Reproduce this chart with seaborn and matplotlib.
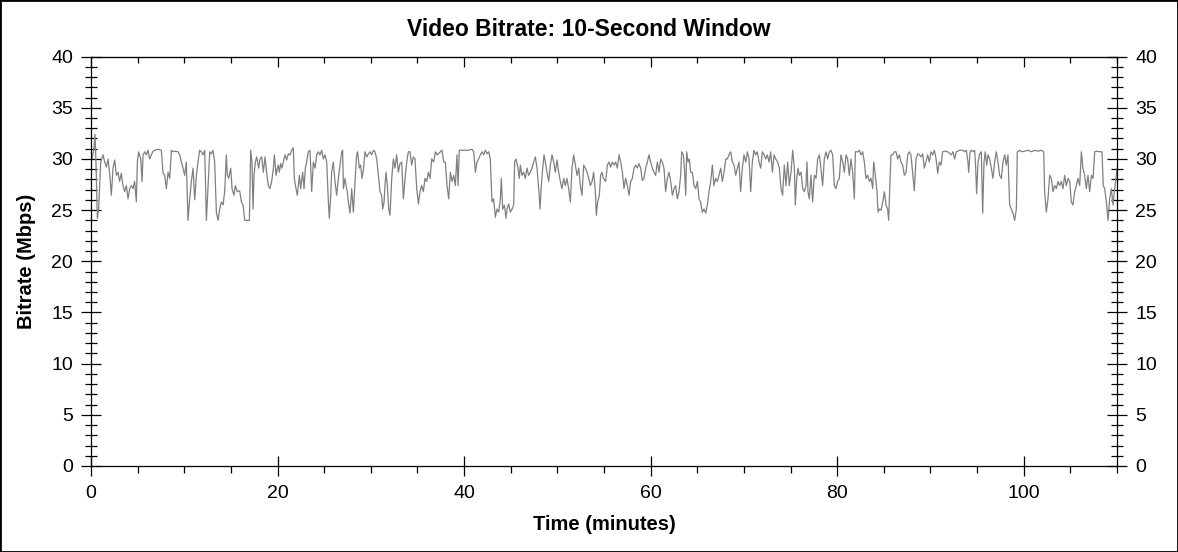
import matplotlib
matplotlib.use("Agg")
import matplotlib.pyplot as plt
import seaborn as sns
from matplotlib.ticker import MultipleLocator
from matplotlib.patches import Rectangle

# time (minutes) and bitrate (Mbps)
minutes = [
    0.11, 0.32, 0.43, 0.54, 0.68, 0.82, 1.04, 1.29, 1.47, 1.65, 1.82, 2.0, 2.18, 2.36, 2.54, 2.72, 2.9, 3.07,
    3.25, 3.43, 3.61, 3.79, 3.97, 4.15, 4.33, 4.51, 4.68, 4.86, 4.97, 5.11, 5.33, 5.47, 5.58, 5.76, 5.93, 6.11,
    6.29, 6.47, 6.65, 6.83, 7.19, 7.54, 7.72, 7.9, 8.08, 8.26, 8.44, 8.62, 8.79, 8.97, 9.33, 9.51, 9.69, 9.87,
    10.04, 10.22, 10.4, 10.58, 10.76, 10.94, 11.12, 11.3, 11.47, 11.65, 11.83, 12.01, 12.19, 12.37, 12.55,
    12.73, 12.9, 13.08, 13.26, 13.44, 13.62, 13.8, 13.98, 14.16, 14.33, 14.51, 14.62, 14.76, 14.98, 15.12,
    15.33, 15.48, 15.69, 15.94, 16.12, 16.3, 16.48, 16.76, 16.98, 17.12, 17.26, 17.37, 17.48, 17.62, 17.76, 17.98,
    18.12, 18.3, 18.48, 18.66, 18.83, 19.01, 19.19, 19.37, 19.55, 19.66, 19.84, 19.98, 20.09, 20.19, 20.34,
    20.48, 20.62, 20.8, 20.98, 21.16, 21.34, 21.52, 21.69, 21.8, 21.98, 22.12, 22.34, 22.48, 22.69, 22.84,
    22.98, 23.12, 23.3, 23.48, 23.66, 23.84, 24.02, 24.2, 24.37, 24.55, 24.73, 24.91, 25.09, 25.27, 25.45,
    25.55, 25.7, 25.8, 25.98, 26.16, 26.34, 26.52, 26.7, 26.88, 26.98, 27.06, 27.23, 27.34, 27.48, 27.59,
    27.77, 27.95, 28.13, 28.31, 28.48, 28.59, 28.77, 28.91, 29.06, 29.2, 29.38, 29.56, 29.74, 29.91, 30.09,
    30.27, 30.45, 30.63, 30.81, 30.99, 31.17, 31.27, 31.42, 31.52, 31.63, 31.77, 31.92, 32.06, 32.24, 32.42,
    32.59, 32.77, 32.95, 33.13, 33.31, 33.49, 33.67, 33.85, 34.02, 34.2, 34.38, 34.56, 34.74, 34.92, 35.1,
    35.27, 35.45, 35.63, 35.81, 35.99, 36.17, 36.35, 36.53,
    36.74, 36.92, 37.1, 37.27, 37.45, 37.63, 37.81, 37.99, 38.17, 38.35, 38.53, 38.7, 38.88, 39.06, 39.24,
    39.35, 39.49, 39.78, 40.13, 40.49, 40.85, 41.03, 41.21, 41.38, 41.56, 41.74, 41.92, 42.1, 42.28, 42.46,
    42.64, 42.81, 42.99, 43.17, 43.35, 43.53, 43.71, 43.89, 43.99, 44.14, 44.32, 44.5, 44.6, 44.78, 44.96,
    45.14, 45.32, 45.42, 45.57, 45.78, 45.92, 46.03, 46.21, 46.39, 46.57, 46.75, 46.92, 47.1, 47.28, 47.46,
    47.64, 47.82, 48.0, 48.14, 48.28, 48.43, 48.57, 48.71, 48.89, 49.07, 49.25, 49.43, 49.61, 49.78, 49.96,
    50.14, 50.32, 50.5, 50.68, 50.86, 51.03, 51.21, 51.39, 51.57, 51.75, 51.93, 52.11, 52.29, 52.46, 52.64,
    52.82, 53.0, 53.18, 53.36, 53.54, 53.72, 53.89, 54.07, 54.18, 54.32, 54.5, 54.64, 54.79, 54.93,
    55.18, 55.36, 55.54, 55.71, 55.89, 56.07, 56.25, 56.43, 56.61, 56.79, 56.97, 57.14, 57.32, 57.5, 57.68,
    57.86, 58.04, 58.22, 58.4, 58.57, 58.75, 58.93, 59.11, 59.29, 59.47, 59.65, 59.82, 60.0, 60.18, 60.36,
    60.54, 60.72, 60.9, 61.08, 61.25, 61.43, 61.61, 61.79, 61.97, 62.15, 62.33, 62.51, 62.68, 62.86, 63.04,
    63.22, 63.33, 63.51, 63.65, 63.76, 63.86, 64.01, 64.15, 64.29, 64.47, 64.65, 64.83, 65.01, 65.19, 65.36,
    65.54, 65.72, 65.9, 66.08, 66.26, 66.44, 66.62, 66.79, 66.97, 67.15, 67.33, 67.51, 67.69, 67.87, 68.05,
    68.22, 68.4, 68.58, 68.76, 68.94, 69.12, 69.3, 69.47, 69.65, 69.83, 70.01, 70.19, 70.37, 70.55, 70.73,
    70.9, 71.08, 71.26, 71.44, 71.62, 71.8, 71.98, 72.16, 72.33, 72.51, 72.69, 72.87, 73.05, 73.23, 73.41,
    73.62, 73.8, 73.98, 74.15, 74.33, 74.51, 74.69, 74.87, 75.05, 75.23, 75.41, 75.51, 75.66, 75.8, 75.94,
    76.12, 76.3, 76.48, 76.66, 76.76, 76.87, 77.01, 77.19, 77.37, 77.55, 77.73, 77.91, 78.09, 78.26, 78.44,
    78.62, 78.8, 78.98, 79.16, 79.34, 79.52, 79.69, 79.87, 80.05, 80.23, 80.41, 80.59, 80.77, 80.95, 81.12,
    81.3, 81.48, 81.66, 81.84, 81.95, 82.2, 82.38, 82.55, 82.73, 82.91, 83.09, 83.27, 83.45, 83.63, 83.81,
    83.91, 84.09, 84.27, 84.38, 84.52, 84.7, 84.88, 85.06, 85.23, 85.41, 85.52, 85.66, 85.77, 85.95, 86.13,
    86.31, 86.49, 86.66, 86.84, 87.02, 87.2, 87.38, 87.56, 87.74, 87.91, 88.09, 88.27, 88.45, 88.63, 88.81,
    88.99, 89.17, 89.34, 89.52, 89.7, 89.88, 90.06, 90.24, 90.42, 90.6, 90.78, 90.95, 91.13, 91.31, 91.49, 91.85,
    92.24, 92.42, 92.59, 92.77, 93.13, 93.49, 93.67, 93.85, 94.02, 94.1, 94.24, 94.38, 94.56, 94.74, 94.85,
    94.95, 95.1, 95.28, 95.45, 95.6, 95.74, 95.88, 96.03, 96.17, 96.35, 96.53, 96.7, 96.88, 97.06, 97.24,
    97.42, 97.6, 97.78, 97.96, 98.13, 98.31, 98.49, 98.67, 98.85, 99.03, 99.21, 99.31, 99.56, 99.74, 100.1,
    100.46, 100.81, 101.17, 101.53, 101.89, 102.14, 102.24, 102.42, 102.6, 102.78, 102.96, 103.14, 103.32,
    103.5, 103.67, 103.85, 104.03, 104.21, 104.39, 104.57, 104.75, 104.93, 105.1, 105.28, 105.46, 105.64,
    105.82, 106.0, 106.18, 106.35, 106.53, 106.71, 106.89, 107.07, 107.25, 107.43, 107.61, 107.78, 108.14,
    108.39, 108.53, 108.68, 108.86, 109.04, 109.21, 109.39, 109.57, 109.75, 109.93, 110.0,
]
mbps = [
    30.0, 31.0, 32.4, 29.5, 24.2, 25.1, 29.7, 30.4, 29.7, 29.2, 30.0, 28.6, 26.45, 29.1, 29.9, 28.4, 28.7, 27.8,
    28.6, 27.4, 26.8, 27.4, 26.1, 27.1, 27.4, 27.1, 27.8, 25.8, 29.7, 30.7, 30.0, 27.8, 30.4, 30.7, 30.4, 30.85,
    30.0, 30.4, 30.76, 30.85, 30.95, 30.85, 28.6, 28.4, 27.1, 28.7, 28.1, 30.85, 30.7, 30.76, 30.7, 30.4, 29.7, 29.1,
    28.4, 29.7, 24.0, 26.1, 27.8, 29.1, 26.0, 28.4, 29.7, 30.85, 30.7, 30.4, 30.85, 24.0, 27.4,
    30.7, 30.5, 30.85, 29.7, 24.8, 24.0, 25.1, 25.8, 25.5, 26.8, 30.4, 28.4, 28.1, 29.1, 27.1,
    26.45, 27.4, 26.8, 26.9, 25.8, 25.5, 24.0, 24.0, 24.0, 30.85, 29.7, 25.1, 28.4, 29.7, 30.2, 29.1,
    30.0, 30.2, 28.7, 30.2, 28.7, 27.4, 27.1, 27.8, 29.1, 30.4, 28.4, 29.1, 29.4, 28.7, 29.55,
    29.1, 29.7, 30.4, 29.9, 30.5, 30.4, 30.85, 31.1, 28.1, 27.1, 26.45, 28.4, 27.1, 28.7, 27.1,
    29.1, 29.7, 30.7, 30.85, 26.8, 29.7, 29.1, 30.4, 30.7, 30.4, 30.85, 30.0, 30.4, 29.7, 25.8,
    24.2, 26.45, 28.7, 29.7, 27.8, 26.45, 28.1, 29.4, 30.7, 30.85, 27.1, 28.1, 27.4, 26.8, 25.8,
    24.7, 27.1, 24.8, 27.8, 30.4, 30.7, 29.1, 29.4, 28.1, 28.9, 30.7, 30.2, 30.5, 30.7, 30.4,
    30.85, 30.7, 30.0, 28.4, 26.8, 26.45, 25.1, 25.8, 27.4, 28.7, 27.4, 25.1, 24.5, 28.1, 30.0,
    29.1, 30.4, 28.7, 29.55, 29.7, 26.1, 28.1, 29.7, 30.7, 30.7, 29.4, 30.2, 30.0, 27.1, 25.6,
    26.8, 27.4, 26.8, 28.1, 27.8, 28.7, 28.1, 30.0,
    29.7, 30.7, 30.4, 30.5, 30.7, 30.85, 29.7, 29.7, 27.4, 26.1, 28.7, 27.8, 28.4, 27.4, 30.4,
    27.4, 30.85, 30.85, 30.85, 30.85, 30.95, 30.7, 28.7, 29.7, 30.0, 30.4, 30.7, 30.4, 30.85, 30.5,
    30.7, 30.0, 25.8, 26.1, 24.3, 25.1, 24.8, 26.1, 28.1, 25.1, 25.5, 24.2, 25.1, 25.6, 24.8,
    25.1, 25.5, 29.7, 30.0, 29.1, 28.1, 29.4, 28.4, 28.7, 28.1, 29.1, 28.4, 28.7, 29.1, 29.7,
    30.2, 29.1, 27.1, 25.1, 27.4, 29.1, 30.4, 29.7, 28.7, 27.8, 29.4, 30.4, 29.7, 28.7, 29.9,
    28.7, 27.8, 27.1, 28.1, 27.4, 28.1, 27.1, 25.8, 29.1, 30.4, 29.4, 28.4, 29.1, 27.4, 26.45,
    29.4, 29.1, 28.7, 28.1, 27.4, 27.8, 28.7, 26.8, 24.5, 25.8, 26.45, 28.4, 28.7, 28.1,
    27.8, 29.4, 29.7, 29.2, 29.7, 29.4, 29.7, 29.1, 30.4, 29.7, 28.7, 27.1, 28.1, 27.4, 26.45,
    27.8, 28.1, 29.1, 29.4, 29.1, 29.55, 29.1, 27.9, 28.1, 29.1, 29.7, 30.4, 29.7, 29.1, 28.7,
    28.4, 29.7, 28.7, 30.0, 29.7, 29.1, 26.8, 28.1, 28.7, 27.8, 26.45, 27.1, 27.4, 26.1, 26.8,
    28.4, 30.7, 30.4, 28.7, 26.45, 30.7, 29.7, 30.0, 28.7, 28.7, 27.4, 27.1, 27.8, 26.1, 25.8,
    24.8, 25.1, 24.7, 25.5, 26.8, 27.8, 29.4, 27.4, 28.1, 27.8, 28.4, 29.1, 27.8, 28.7, 30.0,
    30.0, 30.4, 30.7, 29.7, 29.4, 28.4, 29.1, 29.7, 26.8, 29.1, 30.4, 29.7, 30.7, 30.0, 26.8,
    29.7, 30.85, 30.4, 30.7, 29.7, 29.1, 30.7, 30.4, 30.0, 30.4, 29.7, 30.7, 28.7, 30.4, 30.0,
    29.7, 29.1, 27.1, 26.45, 29.4, 27.4, 29.7, 27.4, 28.7, 30.85, 29.1, 25.5, 28.1, 29.1, 28.4,
    28.7, 27.1, 26.8, 27.4, 29.7, 26.8, 26.1, 28.4, 25.8, 28.4, 28.1, 30.0, 30.4, 29.1, 27.4,
    30.0, 30.7, 30.0, 30.7, 30.85, 30.4, 27.4, 27.1, 27.8, 28.1, 30.4, 29.7, 28.7, 30.4, 30.0,
    28.4, 30.0, 28.7, 26.1, 30.7, 30.7, 30.85, 30.4, 30.7, 29.7, 28.1, 28.4, 27.8, 28.1, 27.1,
    29.7, 28.4, 26.8, 24.8, 25.1, 25.0, 25.8, 26.8, 25.5, 25.1, 24.0, 27.8, 30.4, 30.4, 30.7,
    30.7, 30.0, 30.4, 29.7, 29.4, 28.4, 28.7, 30.4, 30.7, 30.4, 28.7, 26.9, 30.0, 30.5, 30.4,
    30.2, 30.5, 29.1, 29.7, 30.4, 29.7, 30.7, 30.4, 30.85, 30.0, 28.6, 29.7, 29.4, 30.7, 30.76, 30.7,
    30.4, 30.7, 30.0, 30.7, 30.85, 30.85, 30.7, 30.85, 29.7, 28.7, 30.7, 30.85, 30.7, 30.85, 29.1,
    26.6, 29.7, 30.5, 30.7, 24.7, 29.7, 30.7, 29.4, 30.4, 30.0, 29.1, 28.1, 29.7, 30.7, 29.7,
    28.4, 28.1, 29.7, 30.4, 29.4, 30.4, 25.5, 25.1, 24.7, 24.0, 25.1, 30.7, 30.85, 30.7, 30.76,
    30.85, 30.7, 30.85, 30.76, 30.85, 30.7, 26.8, 24.8, 26.1, 28.4, 28.1, 26.8, 27.4,
    27.1, 27.8, 27.4, 27.8, 27.1, 28.4, 27.4, 28.1, 27.8, 25.8, 25.5, 26.8, 27.4,
    28.1, 27.4, 30.7, 29.1, 28.4, 27.1, 28.4, 26.8, 28.4, 28.1, 30.7, 30.76, 30.7,
    30.7, 27.4, 27.1, 25.8, 24.0, 26.1, 27.1, 25.5, 27.1, 28.4, 29.1,
]

title = "Video Bitrate: 10-Second Window"
x_label = "Time (minutes)"
y_label = "Bitrate (Mbps)"

sns.set_style("white")
plt.rcParams['font.family'] = ['Liberation Sans', 'DejaVu Sans']
plt.rcParams['text.color'] = 'black'
plt.rcParams['xtick.color'] = 'black'
plt.rcParams['ytick.color'] = 'black'

fig = plt.figure(figsize=(11.78, 5.52), dpi=100)
ax = fig.add_axes([91 / 1178, 1 - 466 / 552, 1026 / 1178, 409.4 / 552])

sns.lineplot(x=minutes, y=mbps, ax=ax, color='#808080', linewidth=0.9, estimator=None)

ax.set_xlim(0, 110)
ax.set_ylim(0, 40)
ax.xaxis.set_major_locator(MultipleLocator(20))
ax.xaxis.set_minor_locator(MultipleLocator(5))
ax.yaxis.set_major_locator(MultipleLocator(5))
ax.yaxis.set_minor_locator(MultipleLocator(1))

for s in ax.spines.values():
    s.set_color('black')
    s.set_linewidth(0.9)

ax.tick_params(axis='y', which='major', direction='inout', length=15, width=0.9, color='black',
               labelcolor='black', left=True, right=True, labelleft=True, labelright=True,
               labelsize=14, pad=5.5)
ax.tick_params(axis='y', which='minor', direction='inout', length=8, width=0.9, color='black',
               left=True, right=True)
ax.tick_params(axis='x', which='major', direction='inout', length=15, width=0.9, color='black',
               labelcolor='black', bottom=True, top=False, labelsize=14, pad=6)
ax.tick_params(axis='x', which='minor', direction='out', length=5, width=0.9, color='black',
               bottom=True, top=False)

top = ax.secondary_xaxis('top')
top.xaxis.set_major_locator(MultipleLocator(20))
top.xaxis.set_minor_locator(MultipleLocator(5))
top.tick_params(which='major', direction='in', length=7, width=0.9, color='black', labeltop=False)
top.tick_params(which='minor', direction='in', length=4, width=0.9, color='black')

ax.set_xlabel("")
ax.set_ylabel("")
fig.text(589 / 1178, 1 - 30 / 552, title, ha='center', va='center', fontsize=16.5,
         fontweight='bold', color='black')
fig.text(604 / 1178, 1 - 524 / 552, x_label, ha='center', va='center', fontsize=14.5,
         fontweight='bold', color='black')
fig.text(26 / 1178, 1 - 261 / 552, y_label, ha='center', va='center', rotation=90,
         fontsize=14.5, fontweight='bold', color='black')

fig.add_artist(Rectangle((0, 0), 1, 1, transform=fig.transFigure, fill=False,
                         edgecolor='black', linewidth=2))

fig.savefig("out.png", dpi=100)
